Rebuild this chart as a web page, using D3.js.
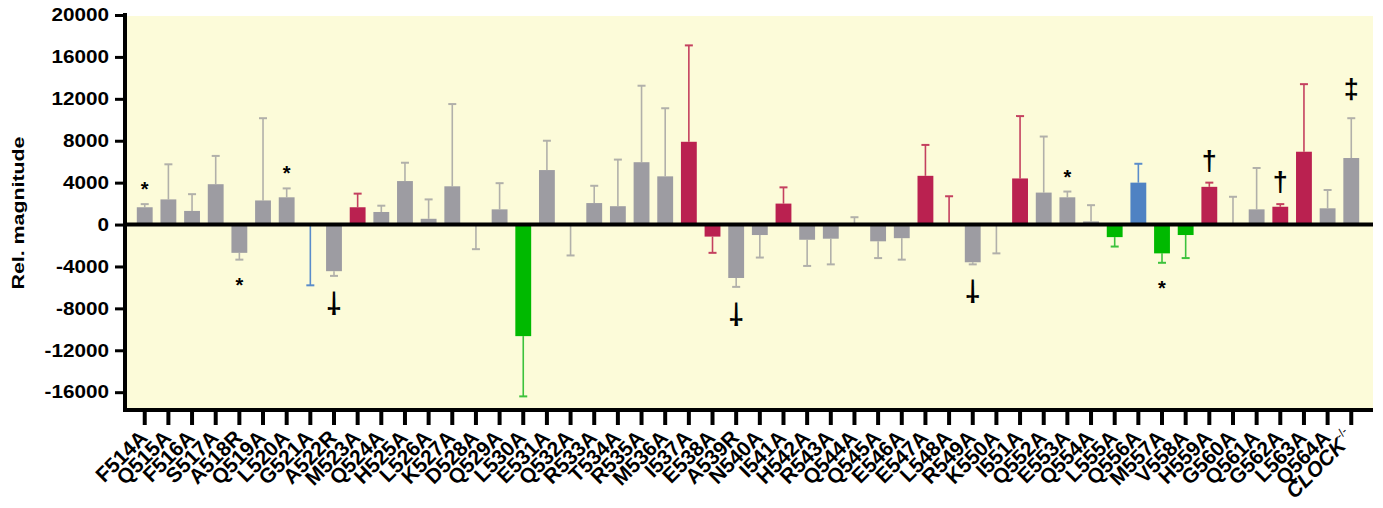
<!DOCTYPE html>
<html>
<head>
<meta charset="utf-8">
<script src="https://cdn.jsdelivr.net/npm/d3@7"></script>
<style>
	body { margin: 0; background: #fff; }
	text { font-family: "Liberation Sans", Arial, sans-serif; font-weight: bold; }
</style>
</head>
<body>
<svg id="chart" width="1383" height="508"></svg>
<script>
// mutants on the x axis
var mutants = ["F514A","Q515A","F516A","S517A","A518R","Q519A","L520A","G521A","A522R","M523A",
	"Q524A","H525A","L526A","K527A","D528A","Q529A","L530A","E531A","Q532A","R533A",
	"T534A","R535A","M536A","I537A","E538A","A539R","N540A","I541A","H542A","R543A",
	"Q544A","Q545A","E546A","E547A","L548A","R549A","K550A","I551A","Q552A","E553A",
	"Q554A","L555A","Q556A","M557A","V558A","H559A","G560A","Q561A","G562A","L563A",
	"Q564A","CLOCK"];

// mean relative magnitude
var means = [1650,2400,1300,3850,-2700,2300,2600,-50,-4450,1650,
	1200,4150,550,3650,-50,1450,-10650,5200,-50,2050,
	1750,5950,4600,7900,-1150,-5100,-1000,2000,-1450,-1350,
	100,-1600,-1300,4650,50,-3600,-50,4400,3050,2600,
	300,-1200,4000,-2750,-1000,3600,50,1450,1700,6950,
	1550,6350];

// error (one sided, away from zero)
var errors = [300,3350,1600,2700,650,7850,850,5750,450,1300,
	600,1750,1850,7850,2300,2500,5750,2800,2900,1650,
	4450,7300,6500,9200,1550,850,2150,1550,2500,2450,
	600,1600,2050,2950,2650,200,2700,5950,5350,550,
	1550,900,1800,900,2200,400,2600,3950,250,6450,
	1750,3800];

// colour group of each bar
var groups = ["g","g","g","g","g","g","g","b","g","r",
	"g","g","g","g","g","g","v","g","g","g",
	"g","g","g","r","r","g","g","r","g","g",
	"g","g","g","r","r","g","g","r","g","g",
	"g","v","b","v","v","r","g","g","r","r",
	"g","g"];

// significance marks
var marks = ["*","","","","*","","*","","⸸","",
	"","","","","","","","","","",
	"","","","","","⸸","","","","",
	"","","","","","⸸","","","","*",
	"","","","*","","†","","","†","",
	"","‡"];

var yTicks = [20000,16000,12000,8000,4000,0,-4000,-8000,-12000,-16000];

var barColor = {g: "#9d9ca2", r: "#ba2150", v: "#00b900", b: "#4f82c3"};
var errColor = {g: "#b1b0aa", r: "#c4405f", v: "#3cc23c", b: "#5a8ccb"};

var rows = mutants.map(function(m, i) {
	return {name: m, mean: means[i], err: errors[i], group: groups[i], mark: marks[i]};
});

var svg = d3.select("#chart");

var x = d3.scaleBand()
	.domain(mutants)
	.range([129, 1367])
	.padding(0.33);

var y = d3.scaleLinear()
	.domain([-17700, 20000])
	.range([410, 15]);

// plot background
svg.append("rect")
	.attr("x", 125)
	.attr("y", 16)
	.attr("width", 1373 - 125)
	.attr("height", y(-17700) - 16)
	.attr("fill", "#fcfbd9");

// error bars
var eb = svg.append("g").selectAll("g")
	.data(rows)
	.enter()
	.append("g");

function errEnd(d) {
	var dir = d.mean < 0 ? -1 : 1;
	return d.mean + dir * d.err;
}

eb.append("line")
	.attr("x1", function(d) { return x(d.name) + x.bandwidth() / 2; })
	.attr("x2", function(d) { return x(d.name) + x.bandwidth() / 2; })
	.attr("y1", function(d) { return y(d.mean); })
	.attr("y2", function(d) { return y(errEnd(d)); })
	.attr("stroke", function(d) { return errColor[d.group]; })
	.attr("stroke-width", 1.6);

eb.append("line")
	.attr("x1", function(d) { return x(d.name) + x.bandwidth() / 2 - 4; })
	.attr("x2", function(d) { return x(d.name) + x.bandwidth() / 2 + 4; })
	.attr("y1", function(d) { return y(errEnd(d)); })
	.attr("y2", function(d) { return y(errEnd(d)); })
	.attr("stroke", function(d) { return errColor[d.group]; })
	.attr("stroke-width", 2);

// bars
svg.append("g").selectAll("rect")
	.data(rows)
	.enter()
	.append("rect")
	.attr("x", function(d) { return x(d.name); })
	.attr("width", x.bandwidth())
	.attr("y", function(d) { return y(Math.max(0, d.mean)); })
	.attr("height", function(d) { return Math.abs(y(d.mean) - y(0)); })
	.attr("fill", function(d) { return barColor[d.group]; });

// significance marks
var markOffset = {"*": 20, "†": 22, "‡": 29, "⸸": 27};
var markSize = {"*": 20, "†": 27, "‡": 27, "⸸": 29};
svg.append("g").selectAll("text")
	.data(rows.filter(function(d) { return d.mark !== ""; }))
	.enter()
	.append("text")
	.attr("text-anchor", "middle")
	.attr("dominant-baseline", "central")
	.attr("font-weight", "normal")
	.attr("font-size", function(d) { return markSize[d.mark]; })
	.attr("transform", function(d) {
		var cx = x(d.name) + x.bandwidth() / 2;
		var e = y(errEnd(d));
		var cy = d.mean < 0 ? e + markOffset[d.mark] : e - markOffset[d.mark];
		if (d.mark === "*") cy += 5;
		return "translate(" + cx + "," + cy + ")" + (d.mark === "⸸" ? " rotate(180)" : "");
	})
	.text(function(d) { return d.mark === "⸸" ? "†" : d.mark; });

// zero line
svg.append("line")
	.attr("x1", 125)
	.attr("x2", 1373)
	.attr("y1", y(0))
	.attr("y2", y(0))
	.attr("stroke", "#000")
	.attr("stroke-width", 4);

// y axis
var yAxis = svg.append("g")
	.attr("transform", "translate(125,0)")
	.call(d3.axisLeft(y)
		.tickValues(yTicks)
		.tickSize(10)
		.tickSizeOuter(0)
		.tickFormat(function(d) { return String(d); }));
yAxis.select(".domain")
	.attr("stroke-width", 4)
	.attr("d", "M0,13V412");
yAxis.selectAll(".tick line").attr("stroke-width", 3);
yAxis.selectAll(".tick text")
	.attr("font-size", 18)
	.attr("font-weight", "bold")
	.attr("font-family", "'Liberation Sans', Arial, sans-serif")
	.attr("fill", "#000")
	.attr("x", -14)
	.attr("transform", "scale(1.15,1)");

// x axis
var xAxis = svg.append("g")
	.attr("transform", "translate(0," + y(-17700) + ")")
	.call(d3.axisBottom(x).tickSize(15).tickSizeOuter(0).tickFormat(""));
xAxis.select(".domain")
	.attr("stroke-width", 4)
	.attr("d", "M123,0H1373");
xAxis.selectAll(".tick line").attr("stroke-width", 4);

// x labels
var labels = svg.append("g").selectAll("text")
	.data(mutants)
	.enter()
	.append("text")
	.attr("text-anchor", "end")
	.attr("font-size", 21)
	.attr("transform", function(d) {
		return "translate(" + (x(d) + x.bandwidth() / 2 + 4) + ",439) rotate(-45)";
	});
labels.filter(function(d) { return d !== "CLOCK"; })
	.text(function(d) { return d; });
var clock = labels.filter(function(d) { return d === "CLOCK"; });
clock.append("tspan").attr("font-style", "italic").text("CLOCK");
clock.append("tspan")
	.attr("font-size", 12)
	.attr("font-weight", "normal")
	.attr("dy", -10)
	.text("-/-");

// y title
svg.append("text")
	.attr("transform", "translate(24,213) rotate(-90)")
	.attr("text-anchor", "middle")
	.attr("font-size", 17)
	.attr("textLength", 153)
	.attr("lengthAdjust", "spacingAndGlyphs")
	.text("Rel. magnitude");
</script>
</body>
</html>
